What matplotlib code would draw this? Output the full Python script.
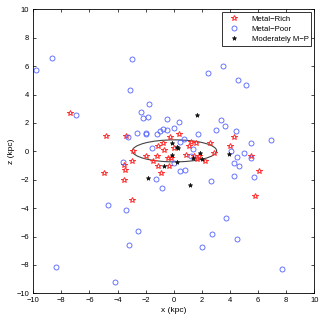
import numpy as np
from matplotlib import pyplot
from matplotlib.patches import Ellipse

pyplot.rcParams['font.family'] = ['Liberation Sans', 'DejaVu Sans']

# Metal-rich stars (x, z in kpc)
rich_x = [-7.4, -4.8, -3.4, -4.95, -3.55, -3.5, -3.55, -3.0, -2.9, -3.0,
          -2.0, -1.5, -1.2, -1.1, -0.9, -1.1, -0.75, -0.7, -0.25, 0.0,
          -0.4, -0.2, -0.35, 0.4, 1.05, 1.2, 1.55, 0.9, 1.45, 1.8,
          1.65, 2.2, 2.6, 2.85, 4.3, 4.0, 5.5, 6.05, 5.75]
rich_z = [2.7, 1.1, 1.1, -1.5, -0.95, -1.35, -2.0, -0.65, 0.0, -3.45,
          -0.35, -0.65, -0.35, -1.0, -1.5, 0.35, 0.55, 0.1, 1.0, 0.25,
          -0.45, -0.5, -1.05, 1.2, 0.4, 0.65, 0.55, -0.25, -0.35, -0.35,
          -0.55, -0.65, 0.55, -0.15, 1.0, 0.35, -0.3, -1.4, -3.15]

# Metal-poor stars
poor_x = [-9.8, -8.65, -3.0, -3.1, -6.95, -1.8, -2.3, -2.2, -1.85, -2.6,
          -1.95, -2.0, -1.2, -1.0, -0.8, -0.45, -0.45, 0.0, 0.4, -3.25,
          -1.55, 0.7, 0.45, 0.0, 1.35, 1.7, 1.2, 0.45, 0.8, -1.25,
          -0.85, -3.6, -4.7, -3.4, -2.55, -3.2, -8.4, -4.15, 2.0, 2.7,
          3.7, 4.5, 7.7, 2.45, 3.5, 4.6, 5.15, 3.35, 3.65, 3.0,
          4.4, 5.5, 6.95, 4.05, 4.5, 5.0, 5.5, 4.3, 4.65, 4.3,
          5.7, 2.65]
poor_z = [5.73, 6.55, 6.5, 4.3, 2.55, 3.3, 2.8, 2.35, 2.4, 1.3,
          1.3, 1.2, 1.2, 1.45, 1.6, 1.5, 2.3, 1.65, 2.05, 1.0,
          0.25, 0.9, 0.65, -0.85, 0.15, 1.2, -0.3, -1.4, -1.35, -1.95,
          -2.6, -0.75, -3.8, -4.15, -5.6, -6.6, -8.15, -9.2, -6.75, -5.8,
          -4.7, -6.15, -8.3, 5.5, 6.0, 5.05, 4.7, 2.2, 1.75, 1.5,
          1.4, 0.6, 0.8, 0.0, -0.4, -0.1, -0.5, -0.85, -1.0, -1.75,
          -1.8, -2.1]

# Moderately metal-poor stars
mod_x = [1.65, -0.1, 0.2, 0.3, -0.1, 0.2, -0.7, -1.85, 1.15, 1.4, 1.85, 2.0, 3.9]
mod_z = [2.55, 0.55, 0.3, 0.25, -0.25, -0.75, -1.0, -1.85, -2.4, -0.5, -0.15, -0.55, -0.2]

ticks = np.arange(-10, 11, 2)

fig = pyplot.figure(figsize=[3.24, 3.18], dpi=100)
ax = fig.add_axes([33.3/324, 1 - 293.3/318, 281/324, 284/318])

ax.plot(rich_x, rich_z, linestyle='none', marker='*', markersize=4.2,
        markerfacecolor='none', markeredgecolor='#ff3030', markeredgewidth=0.7, label='Metal\u2212Rich')
ax.plot(poor_x, poor_z, linestyle='none', marker='o', markersize=3.6,
        markerfacecolor='none', markeredgecolor='#5060ff', markeredgewidth=0.6, label='Metal\u2212Poor')
ax.plot(mod_x, mod_z, linestyle='none', marker='*', markersize=3.2,
        color='#111111', markeredgewidth=0.5, label='Moderately M\u2212P')

ax.add_patch(Ellipse((0.05, 0.03), 6.0, 1.55, fill=False, edgecolor='#444444', linewidth=0.8))

ax.set_xlim(-10, 10)
ax.set_ylim(-10, 10)
ax.set_xticks(ticks)
ax.set_yticks(ticks)
ax.tick_params(direction='in', top=True, right=True, labelsize=5.4, length=2.5, width=0.5, pad=3)
for s in ax.spines.values():
    s.set_linewidth(0.6)
ax.set_xlabel('x (kpc)', fontsize=6, labelpad=1.5)
ax.set_ylabel('z (kpc)', fontsize=6, labelpad=1)

leg = ax.legend(loc='upper right', fontsize=5.6, frameon=True, fancybox=False,
                edgecolor='black', borderpad=0.35, handletextpad=1.0, labelspacing=0.35,
                handlelength=2.4, borderaxespad=0.4)
leg.get_frame().set_linewidth(0.7)

pyplot.savefig('out.png', dpi=100)
